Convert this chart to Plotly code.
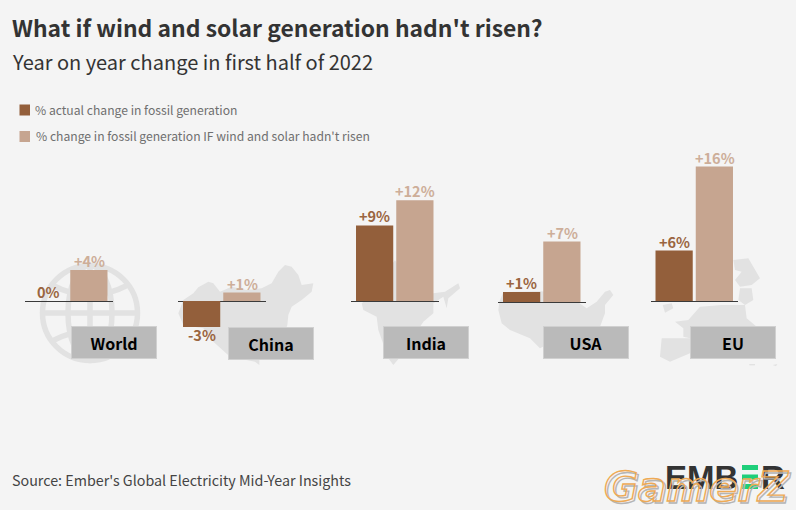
import plotly.graph_objects as go

# ---- data ----
regions = ["World", "China", "India", "USA", "EU"]
actual_change = [0.0, -3.1, 9.0, 1.2, 6.0]
actual_labels = ["0%", "-3%", "+9%", "+1%", "+6%"]
counterfactual_change = [3.7, 1.0, 12.0, 7.2, 16.0]
counterfactual_labels = ["+4%", "+1%", "+12%", "+7%", "+16%"]
series_names = ["% actual change in fossil generation",
                "% change in fossil generation IF wind and solar hadn't risen"]

# ---- layout constants ----
W, H = 796, 510
BG = "#f4f4f4"
DARK = "#935f3b"
LIGHT = "#c6a590"
DARK_TXT = "#9a6540"
LIGHT_TXT = "#cdae99"
MAP = "#e2e2e2"
FONT = "Noto Sans CJK SC"
panel_left = [25, 178, 351, 498, 650.5]
panel_width = 87.5
baseline_y = [301, 301, 301, 302, 301]
label_box = [(71, 342), (228, 343.5), (383, 342.5), (543, 342.5), (690, 342.5)]
PX_PER_UNIT = 8.4
Y_MIN, Y_MAX = -5, 17.5


def px(x):
    return x / W


def py(y):
    return 1 - y / H


def poly(ox, oy, pts):
    """Decorative silhouette from crop points (3x crop with origin ox, oy)."""
    out = []
    for i, (zx, zy) in enumerate(pts):
        out.append(("M" if i == 0 else "L") + f"{px(ox + zx / 3):.5f},{py(oy + zy / 3):.5f}")
    return " ".join(out) + " Z"


def map_shape(path):
    return dict(type="path", path=path, xref="paper", yref="paper", fillcolor=MAP,
                line=dict(width=0), layer="below")


shapes = []
# China
shapes.append(map_shape(poly(170, 250, [(70,130),(85,112),(115,95),(130,100),(150,125),(185,110),(230,120),(275,115),(305,100),(325,65),(345,45),(365,50),(385,75),(395,105),(430,100),(425,125),(395,150),(365,170),(355,195),(352,225),(330,290),(290,325),(268,330),(268,345),(255,335),(180,320),(130,275),(100,235),(40,225),(25,190),(40,150)])))
# India
shapes.append(map_shape(poly(345, 250, [(150,30),(180,80),(220,110),(265,130),(300,125),(340,100),(345,115),(310,145),(305,175),(295,140),(265,160),(265,190),(235,215),(205,260),(175,310),(145,345),(130,325),(100,240),(95,200),(55,180),(50,160),(100,120),(130,60)])))
# USA
shapes.append(map_shape(poly(490, 250, [(28,155),(40,126),(150,124),(250,130),(262,155),(290,175),(320,155),(345,125),(360,120),(370,135),(345,165),(345,190),(330,230),(300,250),(240,260),(200,270),(150,295),(120,265),(60,240),(35,220),(25,180)])))
# EU
for pts in [
    [(250,30),(295,25),(310,50),(330,85),(305,105),(270,110),(255,90),(275,65),(255,60)],
    [(270,115),(305,115),(310,150),(285,165),(265,150)],
    [(38,165),(65,160),(70,175),(45,188)],
    [(150,170),(215,165),(285,165),(290,205),(320,230),(330,325),(120,325),(120,265),(100,260),(100,235),(75,215),(115,210)],
    [(35,265),(125,265),(120,310),(60,335),(30,320)],
    [(298,342),(315,342),(315,346),(298,346)],
    [(368,345),(382,342),(378,349)],
]:
    shapes.append(map_shape(poly(650, 250, pts)))

# Globe
gx, gy, gr = 90, 313, 47.5
gline = dict(color=MAP, width=5.5)
shapes.append(dict(type="circle", xref="paper", yref="paper", x0=px(gx-gr), x1=px(gx+gr),
                   y0=py(gy+gr), y1=py(gy-gr), line=gline, layer="below"))
shapes.append(dict(type="circle", xref="paper", yref="paper", x0=px(gx-22), x1=px(gx+22),
                   y0=py(gy+gr), y1=py(gy-gr), line=gline, layer="below"))
for p in [
    f"M{px(gx-gr)},{py(gy)} L{px(gx+gr)},{py(gy)}",
    f"M{px(gx)},{py(gy-gr)} L{px(gx)},{py(gy+gr)}",
    f"M{px(gx-38)},{py(gy-28)} Q{px(gx)},{py(gy-8)} {px(gx+38)},{py(gy-28)}",
    f"M{px(gx-38)},{py(gy+28)} Q{px(gx)},{py(gy+8)} {px(gx+38)},{py(gy+28)}",
]:
    shapes.append(dict(type="path", path=p, xref="paper", yref="paper", line=gline, layer="below"))

# Legend swatches
for y, c in [(110, DARK), (136.5, LIGHT)]:
    shapes.append(dict(type="rect", xref="paper", yref="paper", x0=px(19.5), x1=px(30),
                       y0=py(y+5.5), y1=py(y-5.5), fillcolor=c, line=dict(width=0)))
# EMBER logo stripes
for y0 in [465, 474.5, 484]:
    shapes.append(dict(type="rect", xref="paper", yref="paper", x0=px(742), x1=px(758),
                       y0=py(y0+5), y1=py(y0), fillcolor="#1fcf7a", line=dict(width=0)))

fig = go.Figure()
layout_axes = {}
value_labels = []
for i, name in enumerate(regions):
    n = "" if i == 0 else str(i + 1)
    top = baseline_y[i] - Y_MAX * PX_PER_UNIT
    bot = baseline_y[i] - Y_MIN * PX_PER_UNIT
    layout_axes[f"xaxis{n}"] = dict(domain=[px(panel_left[i]), px(panel_left[i] + panel_width)],
                                    anchor=f"y{n}", showticklabels=False, showgrid=False,
                                    showline=False, ticks="", zeroline=False, type="category")
    layout_axes[f"yaxis{n}"] = dict(domain=[py(bot), py(top)], range=[Y_MIN, Y_MAX], anchor=f"x{n}",
                                    showticklabels=False, showgrid=False, showline=False, ticks="",
                                    zeroline=True, zerolinecolor="#3a3a3a", zerolinewidth=1.2)
    for vals, labs, col, txt, sname, off, shift in [
        (actual_change, actual_labels, DARK, DARK_TXT, series_names[0], "a", -20.25),
        (counterfactual_change, counterfactual_labels, LIGHT, LIGHT_TXT, series_names[1], "b", 20.25),
    ]:
        fig.add_trace(go.Bar(
            x=[name], y=[vals[i]], name=sname, marker=dict(color=col, line=dict(width=0)),
            offsetgroup=off, xaxis=f"x{n}", yaxis=f"y{n}", showlegend=False, hoverinfo="skip"))
        value_labels.append(dict(
            x=name, y=vals[i], xref=f"x{n}", yref=f"y{n}", text=labs[i], showarrow=False,
            xanchor="center", yanchor="middle", xshift=shift, yshift=9.5 if vals[i] >= 0 else -7.5,
            font=dict(family=FONT, size=14.5, color=txt, weight=700)))


def note(x, y, text, size, color, weight=400, xanchor="left", **kw):
    return dict(x=px(x - 2), y=py(y - 1), xref="paper", yref="paper", text=text, showarrow=False,
                xanchor=xanchor, yanchor="middle", align="left",
                font=dict(family=kw.pop("family", FONT), size=size, color=color, weight=weight,
                          **kw.pop("font_extra", {})), **kw)


annotations = value_labels + [
    note(12, 28, "What if wind and solar generation hadn't risen?", 22.9, "#333333", 700),
    note(12, 62, "Year on year change in first half of 2022", 20, "#333333"),
    note(35, 110, series_names[0], 12.15, "#6f6f6f"),
    note(35.5, 136.5, series_names[1], 12.15, "#6f6f6f"),
    note(12, 480, "Source: Ember's Global Electricity Mid-Year Insights", 14.3, "#444444"),
    note(665, 478, "EMB", 33, "#333333", 700, family="Liberation Sans"),
    note(761, 478, "R", 33, "#333333", 700, family="Liberation Sans"),
    # watermark: gray offset copy, then orange outline (outlined in post_script below)
    note(605.5, 489, "GamerZ", 41.5, "#999999", 700, family="DejaVu Sans", font_extra=dict(style="italic")),
    note(604, 487.5, "GamerZ", 41.5, "#eeaa55", 700, family="DejaVu Sans", font_extra=dict(style="italic")),
]
for name, (bx, by) in zip(regions, label_box):
    annotations.append(dict(x=px(bx + 42.5), y=py(by), xref="paper", yref="paper", text=name,
                            showarrow=False, xanchor="center", yanchor="middle", width=84, height=31,
                            bgcolor="#bababa", bordercolor="#d0d0d0", borderwidth=1, borderpad=0,
                            align="center", valign="middle",
                            font=dict(family=FONT, size=16, color="#000000", weight=600)))

fig.update_layout(
    width=W, height=H, autosize=False, margin=dict(l=0, r=0, t=0, b=0),
    paper_bgcolor=BG, plot_bgcolor="rgba(0,0,0,0)",
    barmode="group", bargap=0.08, bargroupgap=0.075, showlegend=False,
    shapes=shapes, annotations=annotations, **layout_axes,
)
post = """
document.body.style.margin='0';document.body.style.overflow='hidden';document.body.style.background='#f4f4f4';
document.querySelectorAll('.annotation-text').forEach(function(t){
  if(t.textContent==='GamerZ'){
    var s=t.style.fill;
    var c=(s.indexOf('153')>=0)?'#b5b5b5':'#eeaa55';
    t.style.stroke=c;t.style.strokeWidth='1.4px';t.style.fill='none';
  }
});
"""
fig.write_html("out.html", config=dict(displayModeBar=False), post_script=post)
